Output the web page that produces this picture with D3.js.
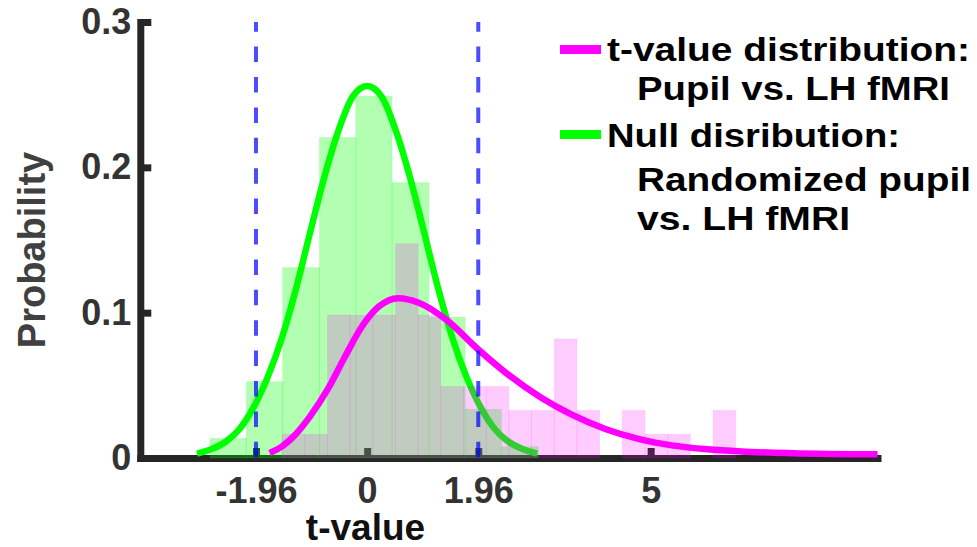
<!DOCTYPE html>
<html>
<head>
<meta charset="utf-8">
<script src="https://cdn.jsdelivr.net/npm/d3@7"></script>
<style>
  html, body { margin: 0; padding: 0; background: #fff; }
  svg { display: block; }
  text { font-family: "Liberation Sans", Arial, Helvetica, sans-serif; font-weight: bold; }
</style>
</head>
<body>
<svg id="chart" width="977" height="547"></svg>
<script>
// ---- data ----------------------------------------------------------------
// Null distribution (randomized pupil vs. LH fMRI): histogram bin edges and probabilities
const nullBinEdges = [-2.77, -2.13, -1.49, -0.84, -0.20, 0.44, 1.09, 1.73, 2.37, 3.02];
const nullBinProb  = [0.0135, 0.0525, 0.131, 0.2205, 0.249, 0.1895, 0.097, 0.0335, 0.0078];

// Observed t-values (pupil vs. LH fMRI): histogram bin edges and probabilities
const tBinEdges = [-1.5, -1.1, -0.7, -0.3, 0.1, 0.5, 0.9, 1.3, 1.7, 2.1, 2.5,
                   2.9, 3.3, 3.7, 4.1, 4.5, 4.9, 5.3, 5.7, 6.1, 6.5];
const tBinProb  = [0.0164, 0.0164, 0.0984, 0.0984, 0.0984, 0.1475, 0.0984, 0.0492, 0.0492, 0.0492,
                   0.0328, 0.0328, 0.082, 0.0328, 0, 0.0328, 0.0164, 0.0164, 0, 0.0328];

// Fitted density of the null distribution
const nullCurveT = [-3, -2.75, -2.5, -2.25, -2, -1.75, -1.5, -1.25, -1, -0.75, -0.5, -0.25, 0,
                    0.25, 0.5, 0.75, 1, 1.25, 1.5, 1.75, 2, 2.25, 2.5, 2.75, 3];
const nullCurveP = [0.003, 0.006, 0.011, 0.020, 0.035, 0.056, 0.083, 0.117, 0.156, 0.194, 0.226, 0.249, 0.256,
                    0.249, 0.226, 0.194, 0.156, 0.117, 0.083, 0.056, 0.035, 0.020, 0.011, 0.006, 0.003];

// Fitted density of the observed t-values
const tCurveT = [-1.72, -1.5, -1.3, -1.0, -0.7, -0.4, -0.1, 0.2, 0.55, 0.9, 1.4, 1.95,
                 2.5, 3.05, 3.6, 4.2, 4.8, 5.4, 6.0, 6.6, 7.5, 9.0];
const tCurveP = [0.0035, 0.008, 0.0147, 0.029, 0.047, 0.069, 0.090, 0.104, 0.110, 0.107, 0.095, 0.075,
                 0.057, 0.042, 0.030, 0.020, 0.013, 0.0085, 0.006, 0.0045, 0.0033, 0.0025];

// Critical values
const critT = [-1.96, 1.96];

// Axes
const xTickValues = [-1.96, 0, 1.96, 5];
const xTickLabels = ["-1.96", "0", "1.96", "5"];
const yTickValues = [0, 0.1, 0.2, 0.3];
const yTickLabels = ["0", "0.1", "0.2", "0.3"];
const xDomain = [-4, 9];
const yDomain = [0, 0.3];

const legendLines = [
  ["t-value distribution:", "Pupil vs. LH fMRI"],
  ["Null disribution:", "Randomized pupil", "vs. LH fMRI"]
];

// ---- drawing --------------------------------------------------------------
const svg = d3.select("#chart");
const AXIS = "#262626";
const GREEN = "#00ff00", MAGENTA = "#ff00ff", BLUE = "#0000ff";

const x = d3.scaleLinear().domain(xDomain).range([140.3, 877.5]);
const y = d3.scaleLinear().domain(yDomain).range([458, 22]);

svg.append("rect").attr("width", 977).attr("height", 547).attr("fill", "#fff");

// axes sit underneath the plotted data
const xAxis = d3.axisBottom(x)
  .tickValues(xTickValues)
  .tickFormat((d, i) => xTickLabels[i])
  .tickSizeInner(-10).tickSizeOuter(0).tickPadding(19);
const yAxis = d3.axisLeft(y)
  .tickValues(yTickValues)
  .tickFormat((d, i) => yTickLabels[i])
  .tickSizeInner(-11).tickSizeOuter(0).tickPadding(9);

function styleAxis(g) {
  g.attr("color", AXIS).attr("font-size", null).attr("font-family", null);
  g.select(".domain").attr("stroke-width", 7).attr("stroke-linecap", "square");
  g.selectAll(".tick line").attr("stroke-width", 7);
  g.selectAll(".tick text").attr("fill", "#333").style("font-size", "36px");
}

svg.append("g").attr("transform", `translate(0,${y(0)})`).call(xAxis).call(styleAxis);
svg.append("g").attr("transform", `translate(${x(-4)},0)`).call(yAxis).call(styleAxis);

// null histogram
svg.append("g").selectAll("rect")
  .data(nullBinProb)
  .join("rect")
  .attr("x", (d, i) => x(nullBinEdges[i]))
  .attr("width", (d, i) => x(nullBinEdges[i + 1]) - x(nullBinEdges[i]))
  .attr("y", d => y(d))
  .attr("height", d => y(0) - y(d))
  .attr("fill", GREEN).attr("fill-opacity", 0.3)
  .attr("stroke", GREEN).attr("stroke-opacity", 0.12).attr("stroke-width", 1);

const line = d3.line().x(d => x(d[0])).y(d => y(d[1])).curve(d3.curveMonotoneX);

// null density
svg.append("path")
  .datum(nullCurveT.map((t, i) => [t, nullCurveP[i]]))
  .attr("d", line)
  .attr("fill", "none").attr("stroke", GREEN).attr("stroke-width", 6.5);

// observed histogram
svg.append("g").selectAll("rect")
  .data(tBinProb)
  .join("rect")
  .attr("x", (d, i) => x(tBinEdges[i]))
  .attr("width", (d, i) => x(tBinEdges[i + 1]) - x(tBinEdges[i]))
  .attr("y", d => y(d))
  .attr("height", d => y(0) - y(d))
  .attr("fill", MAGENTA).attr("fill-opacity", 0.2)
  .attr("stroke", MAGENTA).attr("stroke-opacity", d => d > 0 ? 0.08 : 0).attr("stroke-width", 1);

// observed density
svg.append("path")
  .datum(tCurveT.map((t, i) => [t, tCurveP[i]]))
  .attr("d", line)
  .attr("fill", "none").attr("stroke", MAGENTA).attr("stroke-width", 6.5);

// critical t-values
svg.append("g").selectAll("line")
  .data(critT)
  .join("line")
  .attr("x1", d => x(d)).attr("x2", d => x(d))
  .attr("y1", y(0.3)).attr("y2", y(0))
  .attr("stroke", BLUE).attr("stroke-opacity", 0.7).attr("stroke-width", 4)
  .attr("stroke-dasharray", "15.5,14.9").attr("stroke-dashoffset", 5.8);

// axis titles
svg.append("text")
  .attr("x", 365.5).attr("y", 540)
  .attr("text-anchor", "middle")
  .attr("fill", "#111")
  .style("font-size", "37px")
  .text("t-value");

svg.append("text")
  .attr("transform", "translate(45,250) rotate(-90)")
  .attr("text-anchor", "middle")
  .attr("fill", "#404040")
  .style("font-size", "38px")
  .text("Probability");

// legend
const legend = svg.append("g");
const legendItems = [
  { color: MAGENTA, lineY: 49.5, rows: [[607, 61, 363], [637, 99.5, 313]] },
  { color: GREEN, lineY: 134.5, rows: [[607, 147, 293], [637, 191, 334], [637, 230, 213]] }
];
legendItems.forEach((item, k) => {
  legend.append("line")
    .attr("x1", 560).attr("x2", 601)
    .attr("y1", item.lineY).attr("y2", item.lineY)
    .attr("stroke", item.color).attr("stroke-width", 9);
  item.rows.forEach((r, j) => {
    legend.append("text")
      .attr("x", r[0]).attr("y", r[1])
      .attr("fill", "#000")
      .attr("textLength", r[2]).attr("lengthAdjust", "spacingAndGlyphs")
      .style("font-size", "34px")
      .text(legendLines[k][j]);
  });
});
</script>
</body>
</html>
